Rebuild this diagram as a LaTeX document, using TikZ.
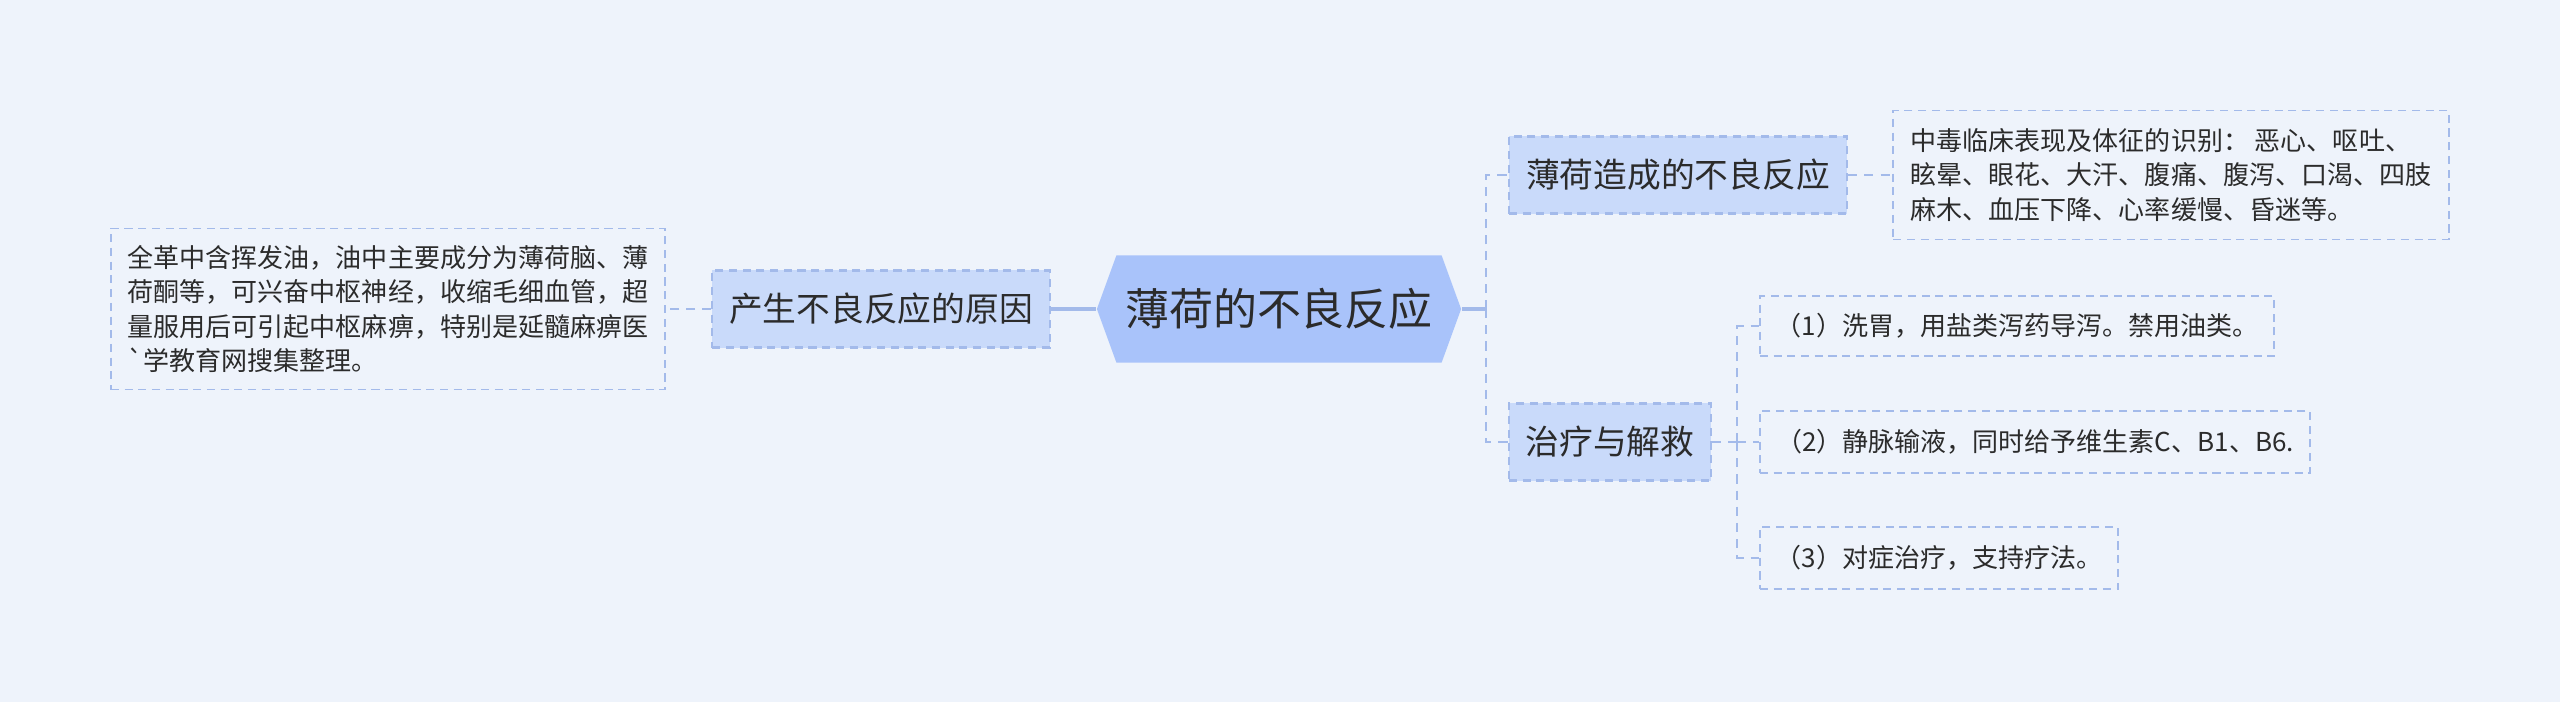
\documentclass[tikz,border=0pt]{standalone}
\usepackage{fontspec}
\setmainfont{Noto Sans CJK SC}
\definecolor{MapBack}{HTML}{EEF3FB}
\definecolor{RootFill}{HTML}{A9C3FA}
\definecolor{TopicFill}{HTML}{C9DAFA}
\definecolor{MapLine}{HTML}{A3BAEA}
\definecolor{MapText}{HTML}{2B2B2B}
\usetikzlibrary{shapes.symbols}

\begin{document}
\begin{tikzpicture}[
  x=0.01cm,y=-0.01cm,
  every node/.style={text=MapText,inner sep=0pt},
  root/.style={shape=signal,signal to=west and east,signal pointer angle=140,
    fill=RootFill,minimum width=3.64cm,minimum height=1.07cm,
    font=\fontsize{12.5}{15}\selectfont},
  topic/.style={draw=MapLine,dash pattern=on 2.3pt off 1.6pt,line width=0.6pt,fill=TopicFill,
    minimum height=0.77cm,font=\fontsize{9.6}{12}\selectfont},
  leaf/.style={draw=MapLine,dash pattern=on 2.3pt off 1.6pt,line width=0.5pt,align=left,
    font=\fontsize{7.4}{9.8}\selectfont},
  solidlink/.style={draw=MapLine,line width=1pt},
  dashlink/.style={draw=MapLine,dash pattern=on 2.6pt off 2pt,line width=0.75pt}
]
  \fill[MapBack] (0,0) rectangle (2560,702);
  \useasboundingbox (0,0) rectangle (2560,702);

  \node[root] (root) at (1279,309) {薄荷的不良反应};

  \node[topic,minimum width=3.37cm] (cause) at (881,309) {产生不良反应的原因};
  \node[leaf,minimum width=5.54cm,minimum height=1.61cm] (causetxt) at (388,309)
    {全革中含挥发油，油中主要成分为薄荷脑、薄\\荷酮等，可兴奋中枢神经，收缩毛细血管，超\\量服用后可引起中枢麻痹，特别是延髓麻痹医\\\textasciigrave 学教育网搜集整理。};

  \node[topic,minimum width=3.38cm] (effect) at (1678,175) {薄荷造成的不良反应};
  \node[leaf,minimum width=5.55cm,minimum height=1.29cm] (effecttxt) at (2171,175)
    {中毒临床表现及体征的识别：  恶心、呕吐、\\眩晕、眼花、大汗、腹痛、腹泻、口渴、四肢\\麻木、血压下降、心率缓慢、昏迷等。};

  \node[topic,minimum width=2.02cm] (treat) at (1610,442) {治疗与解救};
  \node[leaf,minimum width=5.14cm,minimum height=0.60cm] (t1) at (2017,326)
    {（1）洗胃，用盐类泻药导泻。禁用油类。};
  \node[leaf,minimum width=5.50cm,minimum height=0.62cm] (t2) at (2035,442)
    {（2）静脉输液，同时给予维生素C、B1、B6.};
  \node[leaf,minimum width=3.58cm,minimum height=0.62cm] (t3) at (1939,558)
    {（3）对症治疗，支持疗法。};

  \draw[solidlink] (root.west) -- (cause.east);
  \draw[dashlink] (cause.west) -- (causetxt.east);
  \draw[solidlink] (root.east) -- ++(24,0) coordinate (rootfork);
  \draw[dashlink] (rootfork) |- (effect.west);
  \draw[dashlink] (rootfork) |- (treat.west);
  \draw[dashlink] (effect.east) -- (effecttxt.west);
  \draw[dashlink] (treat.east) -- ++(25,0) coordinate (treatfork);
  \draw[dashlink] (treatfork) |- (t1.west);
  \draw[dashlink] (treatfork) -- (t2.west);
  \draw[dashlink] (treatfork) |- (t3.west);
\end{tikzpicture}
\end{document}
